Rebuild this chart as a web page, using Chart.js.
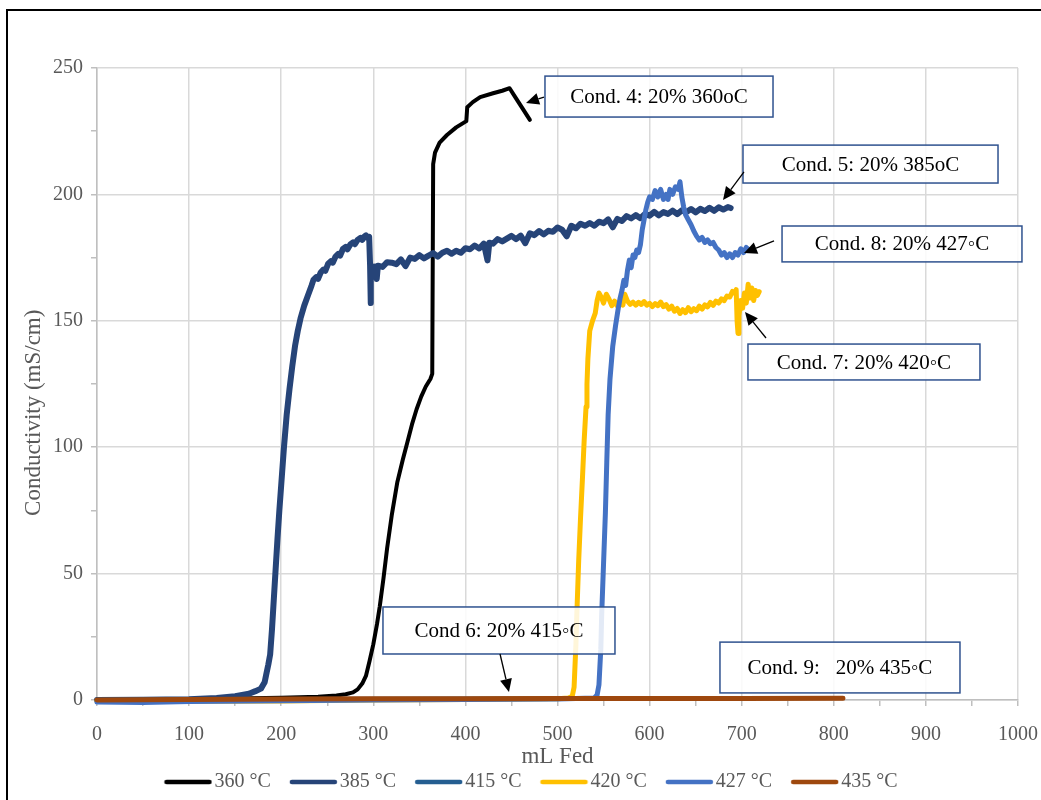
<!DOCTYPE html>
<html>
<head>
<meta charset="utf-8">
<title>Conductivity vs mL Fed</title>
<script src="https://cdn.jsdelivr.net/npm/chart.js@4.4.1/dist/chart.umd.min.js"></script>
<style>
  html, body { margin: 0; padding: 0; background: #fff; overflow: hidden; }
  #frame { position: absolute; left: 6px; top: 9px; width: 1200px; height: 900px;
           border-left: 2px solid #000; border-top: 2px solid #000; box-sizing: border-box; }
  #wrap { position: absolute; left: 0; top: 0; width: 1041px; height: 800px; }
</style>
</head>
<body>
<div id="frame"></div>
<div id="wrap"><canvas id="c" width="1041" height="800"></canvas></div>
<script>
// Series labels (reactor temperature)
const seriesLabels = ['360 °C', '385 °C', '415 °C', '420 °C', '427 °C', '435 °C'];

// 360 °C run: mL fed / conductivity (mS/cm)
const feed360 = [
  0, 50, 100, 150, 200, 240, 260, 270, 278, 283,
  288, 292, 296, 300, 304, 307, 311, 315, 320, 326,
  332, 337, 342, 347, 352, 357, 362, 364, 365, 367,
  372, 380, 390, 401, 402, 408, 416, 430, 440, 448,
  455, 462, 470
];
const cond360 = [
  0.2, 0.3, 0.4, 0.6, 0.9, 1.3, 1.8, 2.3, 3, 4.2,
  6.5, 9.5, 15.5, 22, 30, 37, 48, 60, 73, 86,
  95, 102, 109, 115, 120, 124, 127, 129, 212, 216.5,
  220.5, 223.5, 226.5, 229, 234.5, 236.5, 238.5, 240, 241, 242,
  238, 234, 229.5
];

// 385 °C run
const feed385 = [
  0, 50, 100, 130, 150, 165, 172, 178, 182, 184,
  186, 188, 190, 192, 194, 196, 198, 200, 203, 206,
  209, 212, 215, 218, 221, 225, 229, 233, 235, 238,
  240, 243, 246, 248, 251, 254, 256, 259, 262, 264,
  267, 270, 272, 275, 278, 280, 283, 286, 288, 290,
  292, 294, 295.5, 296.5, 297, 297.5, 299, 300, 301.8, 303.7,
  305, 310, 315, 320, 325, 330, 335, 340, 345, 350,
  355, 360, 365, 370, 375, 380, 385, 390, 395, 400,
  405, 410, 415, 420, 424, 426, 430, 435, 440, 445,
  450, 455, 460, 465, 470, 475, 480, 485, 490, 495,
  500, 505, 510, 515, 520, 525, 530, 535, 540, 545,
  550, 555, 560, 565, 570, 575, 580, 585, 590, 595,
  600, 605, 610, 615, 620, 625, 630, 635, 640, 645,
  650, 655, 660, 665, 670, 675, 680, 685, 688
];
const cond385 = [
  0, 0.1, 0.3, 0.8, 1.5, 2.5, 3.5, 4.5, 7, 10.5,
  14, 18, 28, 40, 52, 64, 75, 85, 100, 113,
  123, 132, 140, 146, 151, 156, 160, 164, 166.2, 167.3,
  166.6, 169.2, 170.3, 169.8, 172.6, 173.6, 173.0, 175.4, 176.5, 175.8,
  178.4, 179.2, 178.3, 180.2, 181.0, 180.3, 182.0, 182.8, 182.0, 183.2,
  183.8, 182.8, 183.2, 172, 157, 168, 171.5, 170.2, 171.4, 166.5,
  171.8, 171.3, 173.2, 173.0, 172.4, 174.3, 171.6, 175.0, 174.5, 176.0,
  174.7, 175.8, 176.8, 175.4, 176.9, 177.7, 176.5, 177.7, 176.9, 178.7,
  178.3, 179.8, 178.6, 180.5, 173.9, 180.9, 180.5, 182.3, 181.4, 182.5,
  183.6, 182.3, 183.7, 180.7, 184.6, 183.9, 185.5, 184.2, 185.6, 185.2,
  186.9, 186.0, 183.4, 187.6, 186.6, 188.4, 187.6, 188.7, 187.6, 189.2,
  188.6, 190.1, 187.0, 190.3, 189.5, 191.4, 190.5, 191.8, 190.6, 192.3,
  191.6, 193.1, 191.7, 193.0, 192.3, 193.6, 192.2, 193.7, 193.0, 194.2,
  192.9, 194.3, 193.4, 194.7, 193.5, 194.9, 194.0, 195.0, 194.6
];

// 415 °C run
const feed415 = [0, 100, 200, 300, 400, 500, 600, 700];
const cond415 = [0.2, 0.3, 0.4, 0.5, 0.6, 0.7, 0.7, 0.8];

// 420 °C run
const feed420 = [
  0, 100, 200, 300, 400, 500, 512, 516, 518, 520,
  521, 523, 525, 527, 529, 531, 532, 533, 535, 538,
  541, 543, 545, 548, 550, 553, 556, 559, 562, 565,
  568, 571, 573, 576, 579, 582, 585, 588, 591, 594,
  597, 600, 603, 606, 609, 612, 615, 618, 621, 624,
  627, 630, 633, 636, 639, 642, 645, 648, 651, 654,
  657, 660, 663, 666, 669, 672, 675, 678, 681, 684,
  687, 690, 692, 694, 695, 696, 697, 699, 701, 703,
  705, 707, 709, 711, 713, 715, 717, 719
];
const cond420 = [
  -0.3, -0.5, -0.4, 0, 0.2, 0.5, 0.8, 1.5, 5, 22,
  34, 55, 72, 87, 103, 116, 125, 135, 146, 150,
  153, 158, 161, 159, 157, 160.5, 158.5, 156, 157.8, 155.8,
  157.6, 156.2, 160.5, 157.8, 156.5, 157.4, 156.2, 157.3, 156.5, 157.6,
  156.2, 156.9, 155.6, 156.8, 156.0, 157.4, 155.6, 156.4, 154.6, 155.8,
  153.8, 154.9, 152.9, 154.4, 153.2, 155.2, 153.6, 154.8, 154.0, 155.8,
  154.6, 156.3, 155.5, 157.3, 156.1, 157.8, 157.0, 158.7, 158.0, 159.8,
  159.4, 161.6, 161, 162.3, 150, 145, 152, 158, 155, 161,
  157, 164.5, 159, 163, 158, 162, 160, 161.5
];

// 427 °C run
const feed427 = [
  0, 50, 100, 200, 300, 400, 500, 540, 543, 545,
  547, 548, 550, 552, 553.5, 555, 557, 560, 563, 566,
  568, 570, 572, 574, 576, 578, 580, 582, 584, 586,
  588, 590, 592, 594, 596, 598, 600, 603, 606, 609,
  612, 615, 618, 620, 622, 625, 628, 631, 633, 635,
  637, 639, 642, 645, 648, 651, 654, 657, 660, 663,
  666, 669, 672, 675, 678, 681, 684, 687, 690, 693,
  696, 699, 702, 705, 708
];
const cond427 = [
  -0.8, -1, -0.6, -0.3, 0, 0.2, 0.4, 0.8, 2, 6,
  20, 34, 54, 74, 94, 113, 127, 140, 148, 155,
  159, 162, 166, 164, 170, 174, 171, 176, 175, 178,
  177, 180, 186, 190, 194, 197, 199, 198, 201.5, 199,
  202, 198, 200, 198, 202, 200, 203, 202, 205, 199,
  195, 192, 190, 188, 185.5, 183.5, 182, 183, 181, 182,
  180.5, 181, 179, 178, 176, 177, 175, 176.5, 175, 177,
  176, 178.5, 177, 179, 178
];

// 435 °C run
const feed435 = [0, 100, 200, 300, 400, 500, 600, 700, 810];
const cond435 = [0, 0.2, 0.4, 0.5, 0.5, 0.6, 0.6, 0.6, 0.7];

// Axis ticks
const xTicks = [0, 100, 200, 300, 400, 500, 600, 700, 800, 900, 1000];
const yTicks = [0, 50, 100, 150, 200, 250];

const feeds = [feed360, feed385, feed415, feed420, feed427, feed435];
const conds = [cond360, cond385, cond415, cond420, cond427, cond435];
const colors = ['#000000', '#264478', '#255E91', '#FFC000', '#4472C4', '#9E480E'];
const widths = [4, 6, 4, 5, 5, 5];

// Legend swatch: a short stroke sitting right up against the label text
function swatch(color) {
  const cv = document.createElement('canvas');
  cv.width = 56; cv.height = 8;
  const g = cv.getContext('2d');
  g.strokeStyle = color;
  g.lineWidth = 4.5;
  g.lineCap = 'round';
  g.beginPath();
  g.moveTo(10, 4);
  g.lineTo(53, 4);
  g.stroke();
  return cv;
}

const datasets = seriesLabels.map((label, i) => ({
  label,
  data: feeds[i].map((f, k) => ({ x: f, y: conds[i][k] })),
  borderColor: colors[i],
  backgroundColor: colors[i],
  borderWidth: widths[i],
  borderCapStyle: 'round',
  borderJoinStyle: 'round',
  pointRadius: 0,
  pointHoverRadius: 0,
  pointStyle: swatch(colors[i]),
  tension: 0,
  fill: false,
  clip: 8,
  order: -i
}));

// Callout boxes (data coordinates) with optional arrows
const callouts = [
  { text: 'Cond. 4: 20% 360oC',  box: [486.4, 246.8, 734.0, 230.6], arrow: [485.3, 238.5, 465.8, 236.2] },
  { text: 'Cond. 5: 20% 385oC',  box: [701.4, 219.5, 978.3, 204.5], arrow: [702.5, 208.9, 679.7, 197.8] },
  { text: 'Cond. 8: 20% 427◦C',  box: [743.8, 187.5, 1004.3, 173.3], arrow: [735.1, 181.6, 702.5, 176.8] },
  { text: 'Cond. 7: 20% 420◦C',  box: [706.8, 140.8, 958.7, 126.6], arrow: [726.4, 143.2, 703.6, 153.5] },
  { text: 'Cond 6: 20% 415◦C',   box: [310.5, 36.8, 562.4, 18.2],   arrow: [437.6, 18.2, 447.3, 3.2] },
  { text: 'Cond. 9:   20% 435◦C', box: [676.4, 22.9, 937.0, 2.8],   arrow: null }
];

const calloutPlugin = {
  id: 'callouts',
  afterDatasetsDraw(chart) {
    const { ctx } = chart;
    const xs = chart.scales.x, ys = chart.scales.y;
    ctx.save();
    for (const c of callouts) {
      const x0 = xs.getPixelForValue(c.box[0]);
      const y0 = ys.getPixelForValue(c.box[1]);
      const x1 = xs.getPixelForValue(c.box[2]);
      const y1 = ys.getPixelForValue(c.box[3]);
      ctx.fillStyle = 'rgba(255,255,255,0.85)';
      ctx.fillRect(x0, y0, x1 - x0, y1 - y0);
      ctx.strokeStyle = '#2F528F';
      ctx.lineWidth = 1.5;
      ctx.strokeRect(x0, y0, x1 - x0, y1 - y0);
      ctx.fillStyle = '#000';
      ctx.font = '21px "Liberation Serif", "Times New Roman", serif';
      ctx.textAlign = 'center';
      ctx.textBaseline = 'middle';
      ctx.fillText(c.text, (x0 + x1) / 2, (y0 + y1) / 2 + 1);
      if (c.arrow) {
        const ax = xs.getPixelForValue(c.arrow[0]);
        const ay = ys.getPixelForValue(c.arrow[1]);
        const bx = xs.getPixelForValue(c.arrow[2]);
        const by = ys.getPixelForValue(c.arrow[3]);
        const ang = Math.atan2(by - ay, bx - ax);
        const head = 13, half = 6;
        const hx = bx - Math.cos(ang) * head, hy = by - Math.sin(ang) * head;
        ctx.strokeStyle = '#000';
        ctx.lineWidth = 1.3;
        ctx.beginPath();
        ctx.moveTo(ax, ay);
        ctx.lineTo(hx, hy);
        ctx.stroke();
        ctx.fillStyle = '#000';
        ctx.beginPath();
        ctx.moveTo(bx, by);
        ctx.lineTo(hx + Math.sin(ang) * half, hy - Math.cos(ang) * half);
        ctx.lineTo(hx - Math.sin(ang) * half, hy + Math.cos(ang) * half);
        ctx.closePath();
        ctx.fill();
      }
    }
    ctx.restore();
  }
};

// Nudge the legend row to the right so it sits under the plot the way the series list is laid out
const legendShift = {
  id: 'legendShift',
  afterLayout(chart) {
    const lg = chart.legend;
    if (lg) { lg.left += 17; lg.right += 17; }
  }
};

Chart.defaults.font.family = '"Liberation Serif", "Times New Roman", serif';
Chart.defaults.color = '#595959';

new Chart(document.getElementById('c'), {
  type: 'line',
  data: { datasets },
  options: {
    responsive: false,
    animation: false,
    events: [],
    layout: { padding: { left: 10, right: 23, top: 68, bottom: -2 } },
    scales: {
      x: {
        type: 'linear',
        min: xTicks[0],
        max: xTicks[xTicks.length - 1],
        afterFit(scale) { scale.height = 53; scale.paddingLeft = 0; scale.paddingRight = 0; },
        ticks: {
          stepSize: 50,
          autoSkip: false,
          maxRotation: 0,
          padding: 17,
          color: '#595959',
          font: { size: 20 },
          callback: v => (xTicks.includes(v) ? String(v) : '')
        },
        grid: {
          color: ctx => (ctx.tick && xTicks.includes(ctx.tick.value) ? '#d9d9d9' : 'rgba(0,0,0,0)'),
          tickColor: '#bfbfbf',
          tickLength: 6,
          lineWidth: 1.5
        },
        border: { color: '#bfbfbf', width: 1.5 },
        title: {
          display: true,
          text: 'mL Fed',
          color: '#595959',
          font: { size: 23, lineHeight: 1 },
          padding: { top: 0, bottom: -15.5 }
        }
      },
      y: {
        type: 'linear',
        min: yTicks[0],
        max: yTicks[yTicks.length - 1],
        afterFit(scale) { scale.width = 87; scale.paddingTop = 0; scale.paddingBottom = 0; },
        ticks: {
          stepSize: 25,
          autoSkip: false,
          padding: 8,
          color: '#595959',
          font: { size: 20 },
          callback: v => (yTicks.includes(v) ? String(v) : '')
        },
        grid: {
          color: ctx => (ctx.tick && yTicks.includes(ctx.tick.value) ? '#d9d9d9' : 'rgba(0,0,0,0)'),
          tickColor: '#bfbfbf',
          tickLength: 6,
          lineWidth: 1.5
        },
        border: { color: '#bfbfbf', width: 1.5 },
        title: {
          display: true,
          text: 'Conductivity (mS/cm)          ',
          color: '#595959',
          font: { size: 23, lineHeight: 1.2 },
          padding: { top: 10.2, bottom: 0 }
        }
      }
    },
    plugins: {
      legend: {
        display: true,
        position: 'bottom',
        labels: {
          usePointStyle: true,
          pointStyleWidth: 40,
          padding: 19,
          color: '#595959',
          font: { size: 20 },
          sort: (a, b) => a.datasetIndex - b.datasetIndex
        }
      },
      tooltip: { enabled: false }
    }
  },
  plugins: [calloutPlugin, legendShift]
});
</script>
</body>
</html>
